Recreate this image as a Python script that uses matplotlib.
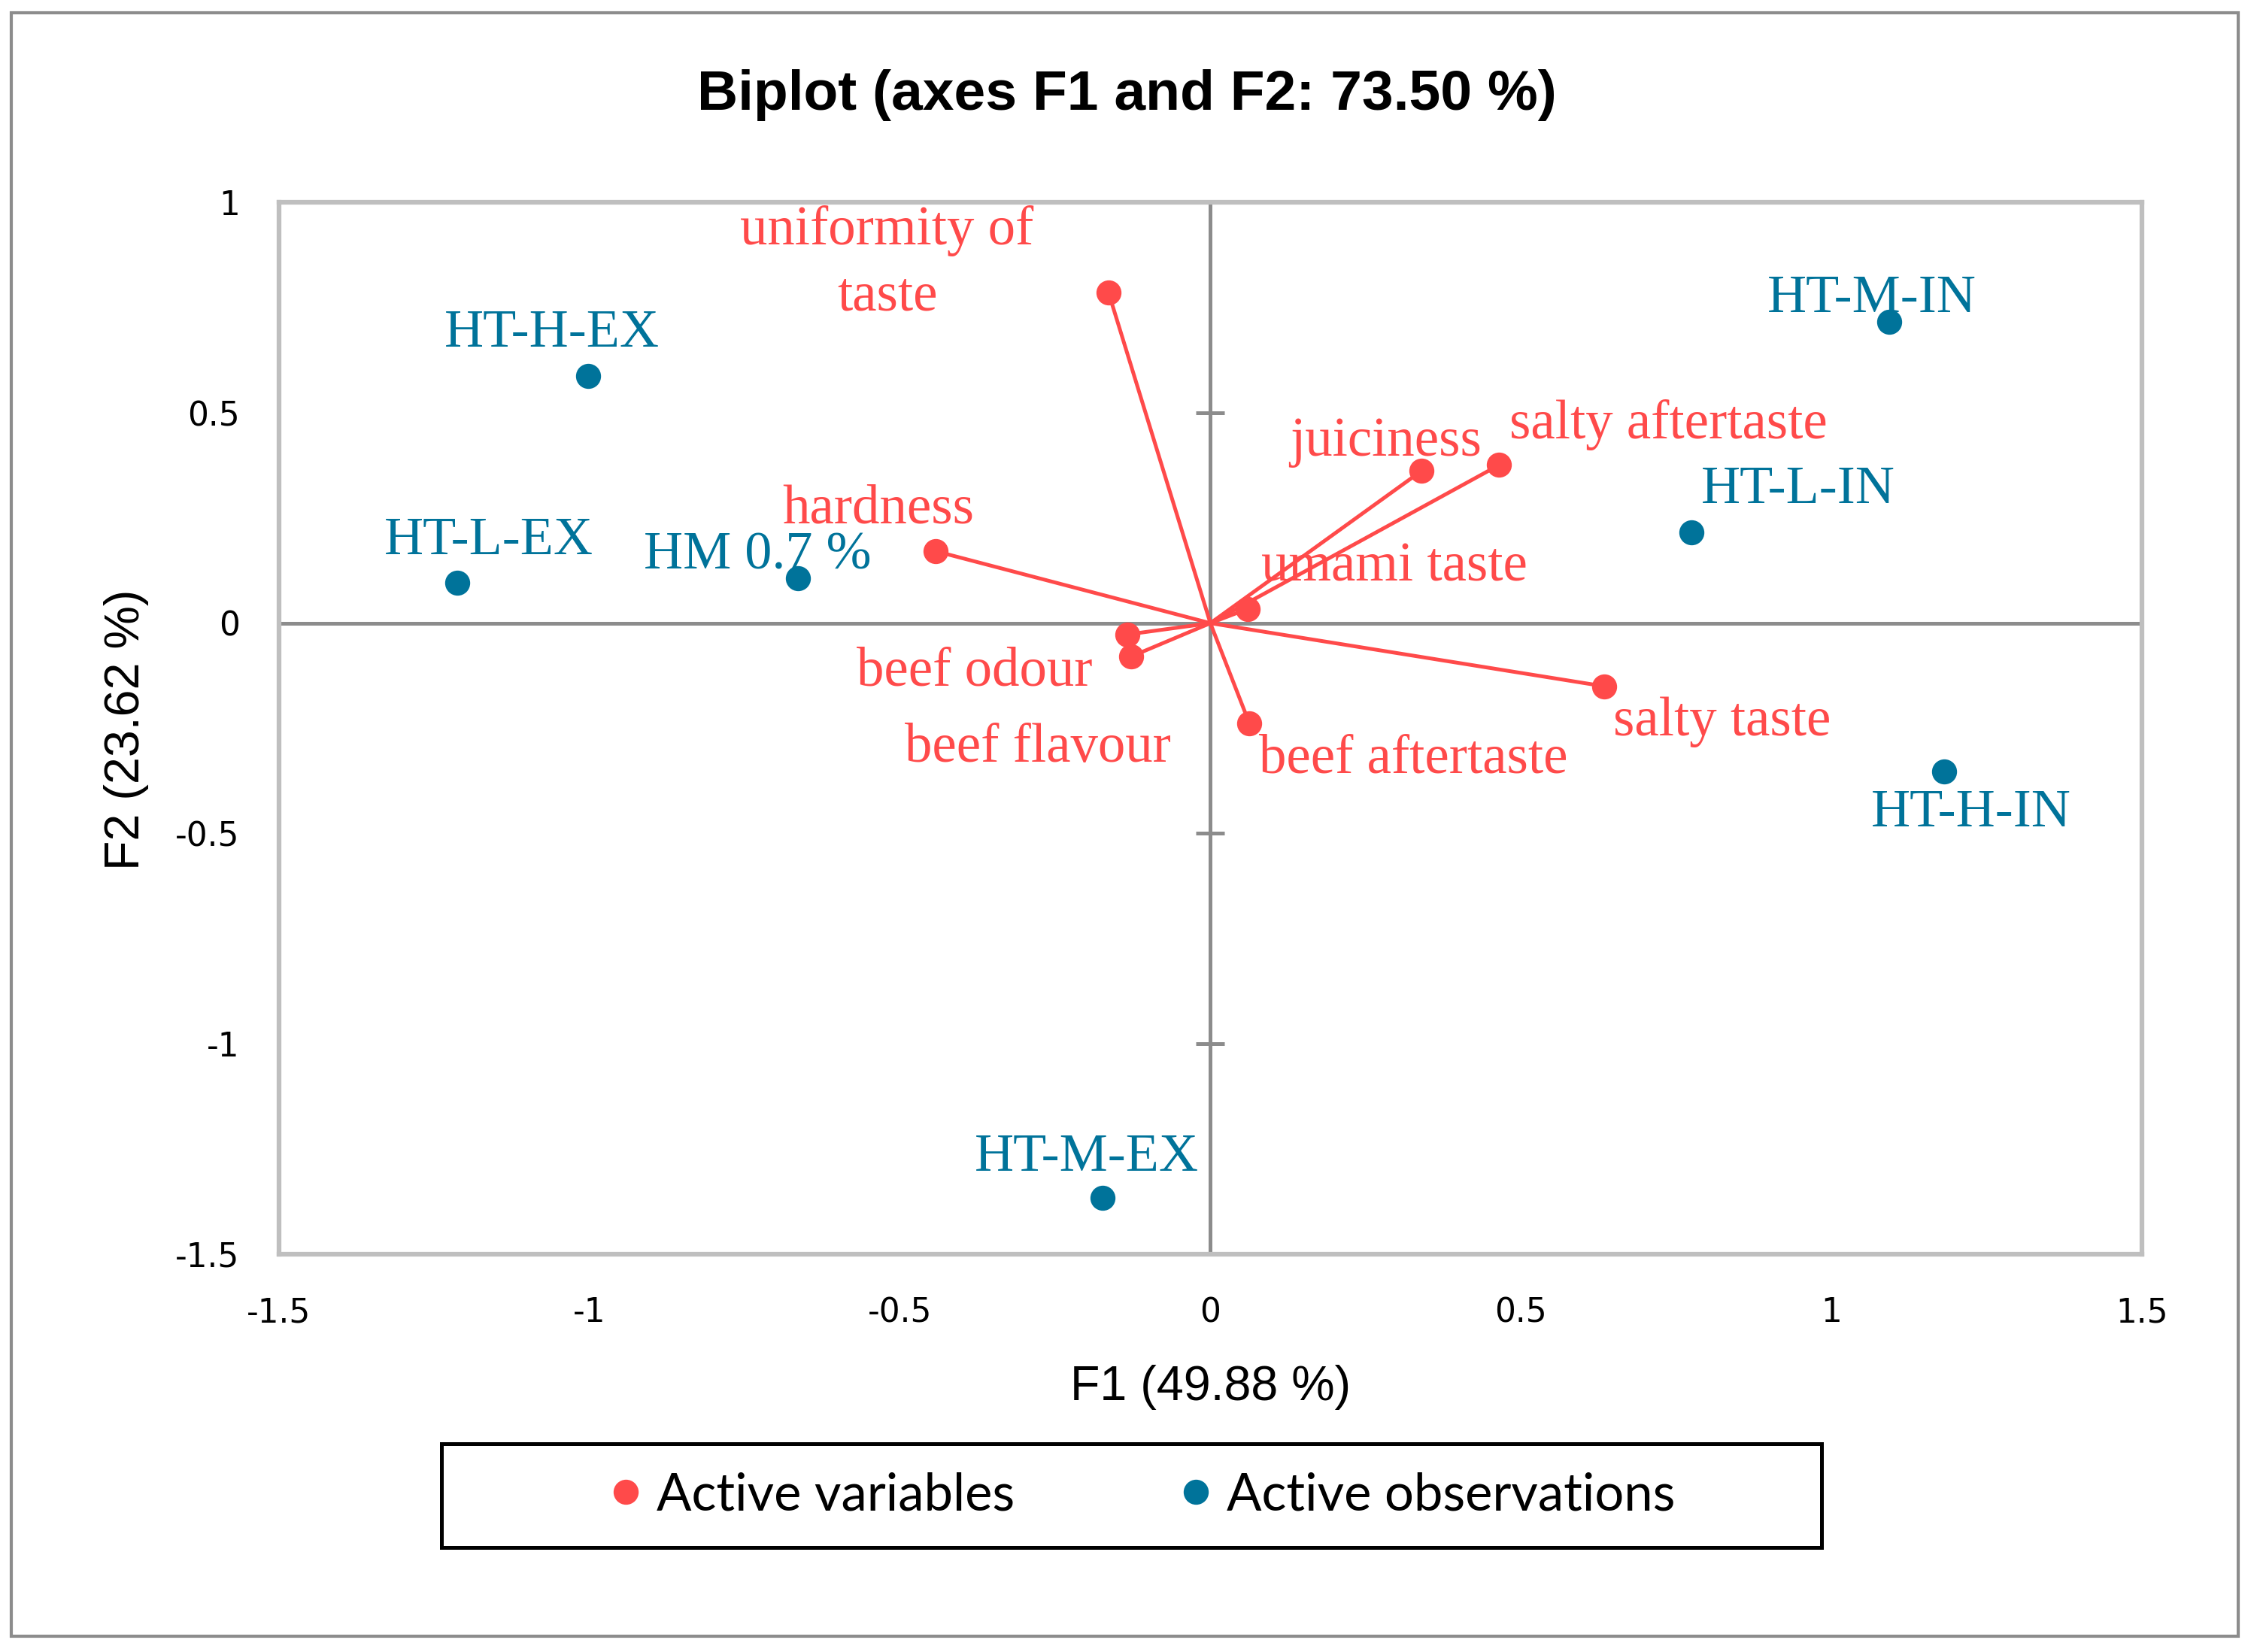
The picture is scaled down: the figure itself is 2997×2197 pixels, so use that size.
import matplotlib
matplotlib.use("Agg")
import matplotlib.pyplot as plt
from matplotlib.patches import Rectangle
from matplotlib.lines import Line2D

# PCA biplot data (F1, F2 coordinates)
var_names = ["uniformity of\ntaste", "juiciness", "salty aftertaste", "hardness",
             "umami taste", "beef odour", "beef flavour", "beef aftertaste", "salty taste"]
var_f1 = [-0.164, 0.340, 0.465, -0.442, 0.060, -0.134, -0.127, 0.063, 0.634]
var_f2 = [0.786, 0.362, 0.376, 0.171, 0.034, -0.027, -0.079, -0.239, -0.150]

obs_names = ["HT-M-IN", "HT-H-EX", "HT-L-IN", "HT-L-EX", "HM 0.7 %", "HT-H-IN", "HT-M-EX"]
obs_f1 = [1.093, -1.002, 0.775, -1.213, -0.664, 1.181, -0.174]
obs_f2 = [0.717, 0.587, 0.215, 0.096, 0.106, -0.352, -1.366]

xticks = [-1.5, -1, -0.5, 0, 0.5, 1, 1.5]
yticks = [-1.5, -1, -0.5, 0, 0.5, 1]

# label offsets relative to each point (screen pixels of a 1568 px wide view)
var_offsets = [(-154, 20), (-25, 20), (118, 28), (-40, 29), (102, 29),
               (-106, -26), (-65, -64), (114, -25), (82, -25)]
obs_offsets = [(-12, 16), (-25, 30), (74, 30), (22, 29), (-28, 16), (19, -29), (-11, 28)]

red = "#FF4A4A"
blue = "#00739A"
W, H = 1568, 1150
PX = 2997 / W * 72 / 300   # view pixel -> points

fig = plt.figure(figsize=(2997 / 300, 2197 / 300), dpi=300)
ax = fig.add_axes([194 / W, 1 - 873 / H, (1490 - 194) / W, (873 - 141) / H])
ax.set_xlim(-1.5, 1.5)
ax.set_ylim(-1.5, 1)

for s in ax.spines.values():
    s.set_color("#BFBFBF")
    s.set_linewidth(1.5)

ax.axhline(0, color="#8C8C8C", lw=1.2, zorder=1)
ax.axvline(0, color="#8C8C8C", lw=1.2, zorder=1)
ax.plot([0] * len(yticks), yticks, ls="none", marker="_", ms=9, mew=1.2,
        color="#8C8C8C", clip_on=False, zorder=1)

ax.set_xticks(xticks)
ax.set_yticks(yticks)
ax.set_xticklabels([f"{t:g}" for t in xticks])
ax.set_yticklabels([f"{t:g}" for t in yticks])
ax.tick_params(axis="x", length=0, labelsize=10.5, pad=13.5)
ax.tick_params(axis="y", length=0, labelsize=10.5, pad=12.5)

# variable vectors
for x, y in zip(var_f1, var_f2):
    ax.plot([0, x], [0, y], color=red, lw=1.2, zorder=2)
ax.plot(var_f1, var_f2, ls="none", marker="o", ms=7, color=red, zorder=3)
ax.plot(obs_f1, obs_f2, ls="none", marker="o", ms=7, color=blue, zorder=3)

serif = "Liberation Serif"
for name, x, y, (dx, dy) in zip(var_names, var_f1, var_f2, var_offsets):
    ax.annotate(name, (x, y), xytext=(dx * PX, dy * PX), textcoords="offset points",
                ha="center", va="center", color=red, fontsize=17.5, family=serif,
                linespacing=1.4)
for name, x, y, (dx, dy) in zip(obs_names, obs_f1, obs_f2, obs_offsets):
    ax.annotate(name, (x, y), xytext=(dx * PX, dy * PX), textcoords="offset points",
                ha="center", va="center", color=blue, fontsize=17.3, family=serif)

fig.text(784 / W, 1 - 66 / H, "Biplot (axes F1 and F2: 73.50 %)", ha="center", va="center",
         fontsize=18, fontweight="bold", family="Liberation Sans")
fig.text(842 / W, 1 - 966 / H, "F1 (49.88 %)", ha="center", va="center",
         fontsize=15.5, family="Liberation Sans")
fig.text(88 / W, 1 - 508 / H, "F2 (23.62 %)", ha="center", va="center", rotation=90,
         fontsize=15.5, family="Liberation Sans")

# legend box
fig.add_artist(Rectangle((307 / W, 1 - 1077 / H), (1267 - 307) / W, (1077 - 1005) / H,
                         fill=False, ec="black", lw=1.2, transform=fig.transFigure))
handles = [Line2D([], [], ls="none", marker="o", ms=7, color=red),
           Line2D([], [], ls="none", marker="o", ms=7, color=blue)]
fig.legend(handles, ["Active variables", "Active observations"], loc="center",
           bbox_to_anchor=(793 / W, 1 - 1041 / H), ncol=2, frameon=False,
           prop={"family": "Lato", "size": 16.5}, handlelength=0.8, handletextpad=0.2,
           columnspacing=3.1)

# outer chart border
fig.add_artist(Rectangle((8 / W, 1 - 1139 / H), (1557 - 8) / W, (1139 - 9) / H,
                         fill=False, ec="#8C8C8C", lw=1.0, transform=fig.transFigure))

fig.savefig("out.png", dpi=300)
